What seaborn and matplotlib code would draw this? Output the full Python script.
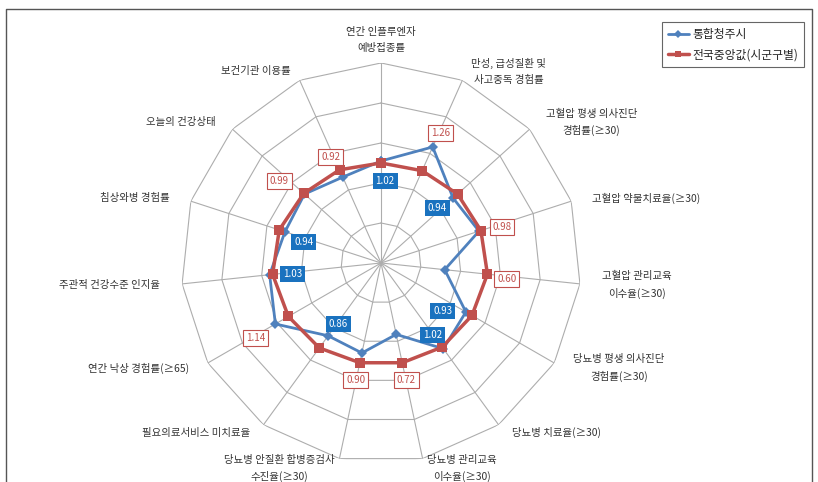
import numpy as np
import pandas as pd
import matplotlib
matplotlib.use('Agg')
import matplotlib.pyplot as plt
from matplotlib.lines import Line2D
import seaborn as sns

# categories clockwise from the top
categories = ['연간 인플루엔자\n예방접종률', '만성, 급성질환 및\n사고중독 경험률',
              '고혈압 평생 의사진단\n경험률(≥30)', '고혈압 약물치료율(≥30)',
              '고혈압 관리교육\n이수율(≥30)', '당뇨병 평생 의사진단\n경험률(≥30)',
              '당뇨병 치료율(≥30)', '당뇨병 관리교육\n이수율(≥30)',
              '당뇨병 안질환 합병증검사\n수진율(≥30)', '필요의료서비스 미치료율',
              '연간 낙상 경험률(≥65)', '주관적 건강수준 인지율', '침상와병 경험률',
              '오늘의 건강상태', '보건기관 이용률']

cheongju = [1.02, 1.27, 0.97, 1.03, 0.64, 0.98, 1.06, 0.73, 0.92, 0.90,
            1.22, 1.12, 1.01, 1.03, 0.94]
national_median = [1.00, 1.01, 1.03, 1.05, 1.07, 1.05, 1.04, 1.02, 1.02, 1.05,
                   1.07, 1.09, 1.07, 1.04, 1.02]
ratio_labels = ['1.02', '1.26', '0.94', '0.98', '0.60', '0.93', '1.02', '0.72',
                '0.90', '0.86', '1.14', '1.03', '0.94', '0.99', '0.92']

blue = '#4F81BD'
red = '#C0504D'
grid_c = '#ADADAD'

sns.set_theme(style='white')
plt.rcParams['font.family'] = ['Noto Sans CJK KR', 'DejaVu Sans']

n = len(categories)
theta = np.linspace(0, 2 * np.pi, n, endpoint=False)
closed_theta = np.append(theta, 2 * np.pi)

fig = plt.figure(figsize=(8.18, 4.82), dpi=100)
ax = fig.add_axes([0.2213, 0.0394, 0.489, 0.830], projection='polar')
ax.set_theta_offset(np.pi / 2)
ax.set_theta_direction(-1)
ax.set_ylim(0, 2.0)
ax.grid(False)
ax.set_xticks([])
ax.set_yticks([])
ax.spines['polar'].set_visible(False)
ax.patch.set_alpha(0)

# polygon gridlines and spokes
for r in np.arange(0.4, 2.01, 0.4):
    ax.plot(closed_theta, [r] * (n + 1), color=grid_c, lw=0.8, zorder=1)
for t in theta:
    ax.plot([t, t], [0, 2.0], color=grid_c, lw=0.8, zorder=1)

df = pd.DataFrame({
    'theta': np.concatenate([closed_theta, closed_theta]),
    'value': cheongju + cheongju[:1] + national_median + national_median[:1],
    'series': ['통합청주시'] * (n + 1) + ['전국중앙값(시군구별)'] * (n + 1),
})

sns.lineplot(data=df[df.series == '통합청주시'], x='theta', y='value', sort=False,
             estimator=None, color=blue, lw=2, marker='D', markersize=5,
             markeredgewidth=0, ax=ax, zorder=3)
sns.lineplot(data=df[df.series == '전국중앙값(시군구별)'], x='theta', y='value', sort=False,
             estimator=None, color=red, lw=2.5, marker='s', markersize=6.5,
             markeredgewidth=0, ax=ax, zorder=4)
ax.set_xlabel('')
ax.set_ylabel('')

# category labels outside the outer ring
for t, cat in zip(theta, categories):
    a = np.pi / 2 - t
    c, s = np.cos(a), np.sin(a)
    if abs(c) < 0.15:
        ha = 'center'
    elif c > 0:
        ha = 'left'
    else:
        ha = 'right'
    va = 'bottom' if s > 0.95 else 'center'
    ax.annotate(cat, xy=(t, 2.0), xytext=(22 * c, 10 * s), textcoords='offset pixels',
                ha=ha, va=va, multialignment='center', fontsize=7.5, color='#333333',
                linespacing=1.7, annotation_clip=False)

# ratio labels (blue filled / red outlined)
box_kind = ['b', 'r', 'b', 'r', 'r', 'b', 'b', 'r', 'r', 'b', 'r', 'b', 'b', 'r', 'r']
offsets = [(4, -20), (8, 14), (-16, -10), (23, 4), (62, -9), (-23, 1), (-11, 14),
           (10, -46), (-6, -27), (10, 12), (-20, -14), (23, 1), (19, -10),
           (-25, 13), (-12, 20)]
for i, (lab, kind, off) in enumerate(zip(ratio_labels, box_kind, offsets)):
    if kind == 'b':
        bbox = dict(boxstyle='square,pad=0.3', fc='#1A72BF', ec='none')
        col = 'white'
    else:
        bbox = dict(boxstyle='square,pad=0.3', fc='white', ec=red, lw=0.8)
        col = red
    ax.annotate(lab, xy=(theta[i], cheongju[i]), xytext=off, textcoords='offset pixels',
                ha='center', va='center', fontsize=7, color=col, bbox=bbox, zorder=6,
                annotation_clip=False)

handles = [Line2D([], [], color=blue, lw=2, marker='D', markersize=4, markeredgewidth=0),
           Line2D([], [], color=red, lw=2.5, marker='s', markersize=5, markeredgewidth=0)]
leg = fig.legend(handles, ['통합청주시', '전국중앙값(시군구별)'], loc='upper left',
                 bbox_to_anchor=(0.809, 0.954), borderaxespad=0, fontsize=8.5,
                 frameon=True, fancybox=False, handlelength=1.8, handletextpad=0.3,
                 borderpad=0.5, labelspacing=0.6)
leg.get_frame().set_edgecolor('#404040')
leg.get_frame().set_linewidth(0.8)

# outer chart frame (cut off at the bottom)
fx0, fx1, fy = 6 / 818, 812 / 818, 1 - 9 / 482
fig.add_artist(Line2D([fx0, fx0, fx1, fx1], [-0.05, fy, fy, -0.05],
                      transform=fig.transFigure, color='#555555', lw=1))

fig.savefig('out.png', dpi=100)
